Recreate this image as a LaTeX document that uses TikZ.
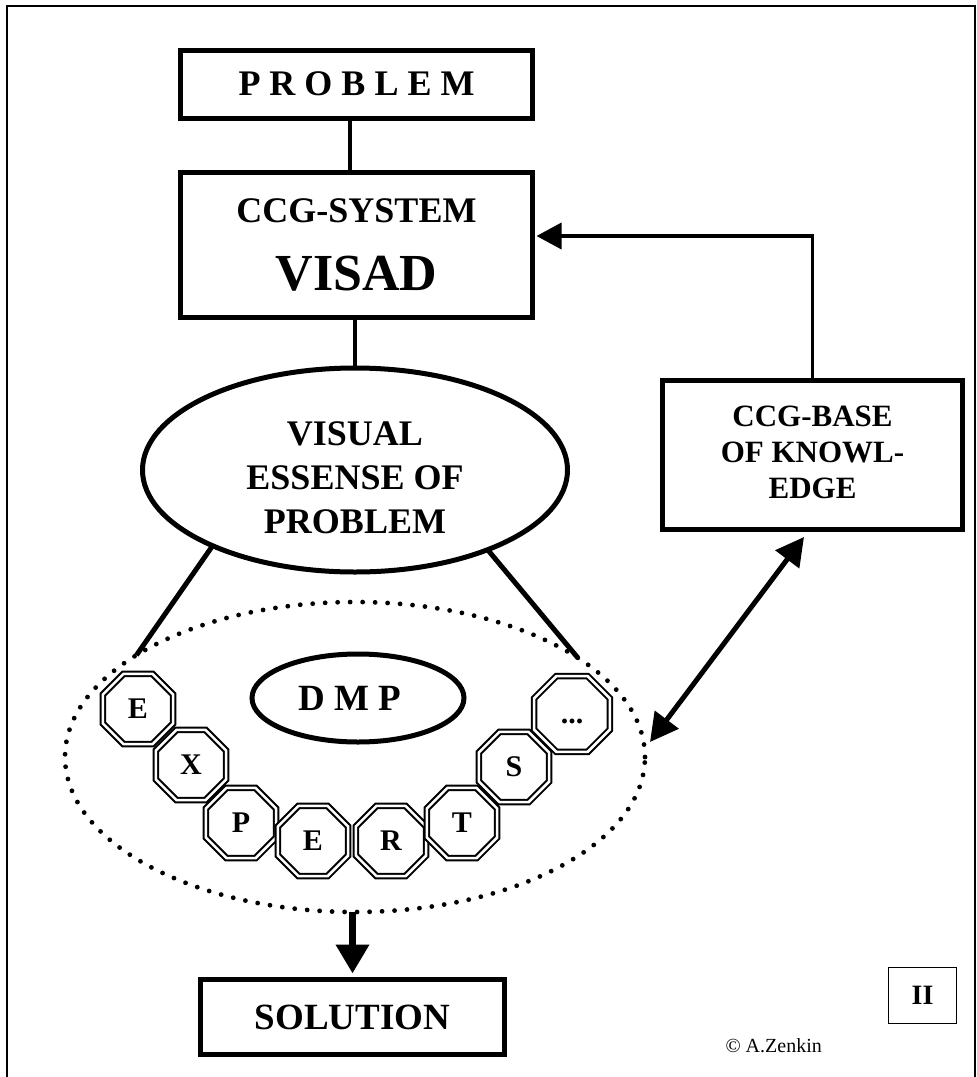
\documentclass[tikz,border=0pt]{standalone}
\usepackage{fontspec}
\setmainfont{Liberation Serif}
\usetikzlibrary{shapes.geometric,arrows.meta}
\tikzset{
  box/.style={draw, line width=5pt, inner sep=0pt, outer sep=0pt, align=center, font=\bfseries},
  oval/.style={ellipse, draw, line width=5pt, inner sep=0pt, outer sep=0pt, align=center, font=\bfseries},
  oct/.style={regular polygon, regular polygon sides=8, minimum size=76pt, draw, double, double distance=2.6pt, line width=2pt, fill=white, inner sep=0pt, outer sep=0pt, font=\bfseries\fontsize{30}{30}\selectfont},
  thinconn/.style={line width=3.5pt},
  thickconn/.style={line width=5pt},
  dotline/.style={line width=4.8pt, line cap=round, dash pattern=on 0pt off 12.5pt},
}
\begin{document}
\begin{tikzpicture}[x=1pt,y=-1pt]
\useasboundingbox (0,0) rectangle (977,1077);
% page frame
\draw[line width=1.3pt] (7,1077) -- (7,6) -- (975,6) -- (975,1077);

% boxes
\node[box, minimum width=352pt, minimum height=68pt, font=\bfseries\fontsize{36}{40}\selectfont] (prob) at (356.5,84) {P R O B L E M};
\node[box, minimum width=352pt, minimum height=145pt, font=\bfseries\fontsize{36}{68}\selectfont] (ccg) at (356.5,245) {CCG-SYSTEM\\{\fontsize{52}{68}\selectfont VISAD}};
\node[box, minimum width=300pt, minimum height=149pt, font=\bfseries\fontsize{31}{38}\selectfont] (base) at (812.5,455) {\begin{tabular}{@{}c@{}}CCG-BASE\\[-2pt]OF KNOWL-\\[-2pt]EDGE\end{tabular}};
\node[oval, minimum width=425pt, minimum height=204pt, font=\bfseries\fontsize{36}{45}\selectfont] (ve) at (355,470) {\raisebox{-10pt}[\height][\depth]{\begin{tabular}{@{}c@{}}VISUAL\\[-1pt]ESSENSE OF\\[-1pt]PROBLEM\end{tabular}}};
\node[box, minimum width=304pt, minimum height=75pt, font=\bfseries\fontsize{37}{40}\selectfont] (sol) at (352.5,1017) {SOLUTION};

% dotted group ellipse
\node[ellipse, draw, dotline, minimum width=580pt, minimum height=310pt, inner sep=0pt, outer sep=0pt] (de) at (355,757) {};
\node[oval, minimum width=212pt, minimum height=88pt, font=\bfseries\fontsize{37}{40}\selectfont] (dmp) at (358,698) {D M P\hspace*{16pt}};

% experts
\node[oct] (o1) at (138,709) {E};
\node[oct] (o2) at (191,765) {X};
\node[oct] (o3) at (241,823) {P};
\node[oct] (o4) at (313,841) {E};
\node[oct] (o5) at (391,841) {R};
\node[oct] (o6) at (462,823) {T};
\node[oct] (o7) at (514,767) {S};
\node[oct, minimum size=82pt] (o8) at (572,714) {\vphantom{E}...};

% small box and credit
\node[draw, line width=1pt, minimum width=68pt, minimum height=56pt, inner sep=0pt, font=\bfseries\fontsize{28}{30}\selectfont] (ii) at (922.5,995.5) {II};
\node[anchor=base east, inner sep=0pt, font=\fontsize{20}{22}\selectfont] (copy) at (822,1052) {\textcopyright{} A.Zenkin};

% connectors
\draw[thinconn] (prob.south -| 350,0) -- (ccg.north -| 350,0);
\draw[thinconn] (ccg.south -| 355,0) -- (ve.north);
\draw[thickconn] (ve.208) -- (de.155);
\draw[thickconn] (ve.329) -- (de.24);
\draw[thinconn, -{Triangle[length=25pt,width=26pt]}, shorten >=4pt] (base.north) |- ([yshift=9pt]ccg.east);
\coordinate (da1) at (804,537);
\coordinate (da2) at (650,742);
\draw[thickconn, {Triangle[length=28pt,width=29pt]}-{Triangle[length=28pt,width=29pt]}] (da2) -- (da1);
\draw[line width=7pt, -{Triangle[length=29pt,width=32pt]}, shorten >=6pt] (de.south -| sol.north) -- (sol.north);
\end{tikzpicture}
\end{document}
